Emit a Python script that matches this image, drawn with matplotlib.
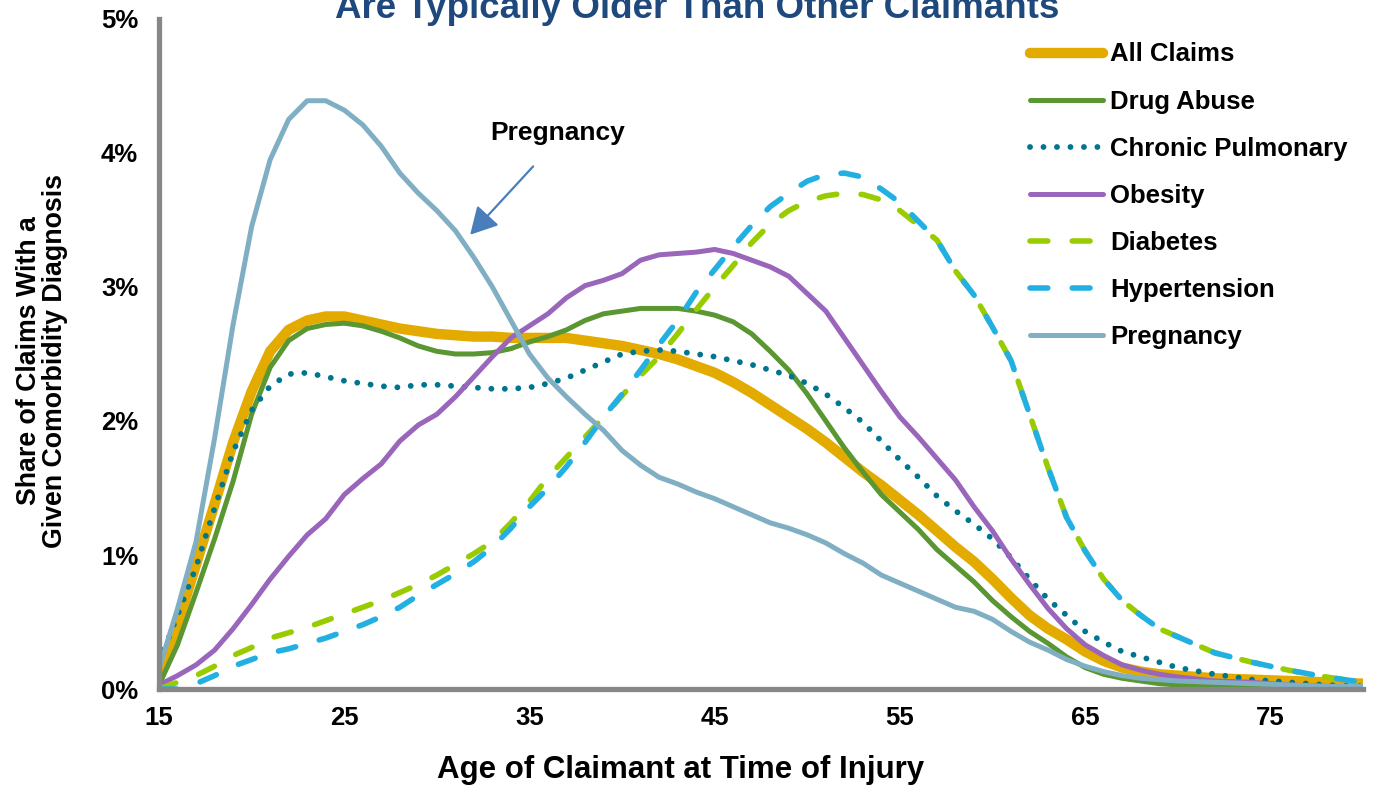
import matplotlib
matplotlib.use("Agg")
import matplotlib.pyplot as plt
from matplotlib.ticker import FuncFormatter

plt.rcParams['font.family'] = ['Liberation Sans', 'DejaVu Sans']
plt.rcParams['font.weight'] = 'bold'

# ages (x axis)
ages = list(range(15, 71)) + [72, 74, 76, 78, 80]

# share of claims (%) at each age
all_claims = [0.08, 0.48, 0.93, 1.38, 1.84, 2.22, 2.52, 2.68, 2.75, 2.78,
              2.78, 2.75, 2.72, 2.69, 2.67, 2.65, 2.64, 2.63, 2.63, 2.62,
              2.62, 2.62, 2.62, 2.60, 2.58, 2.56, 2.53, 2.50, 2.46, 2.41,
              2.36, 2.29, 2.21, 2.12, 2.03, 1.94, 1.84, 1.73, 1.62, 1.52,
              1.41, 1.30, 1.18, 1.06, 0.95, 0.82, 0.68, 0.55, 0.45, 0.37,
              0.28, 0.21, 0.16, 0.13, 0.11, 0.10,
              0.08, 0.07, 0.06, 0.05, 0.04]
drug_abuse = [0.03, 0.33, 0.72, 1.12, 1.55, 2.05, 2.40, 2.60, 2.69, 2.72,
              2.73, 2.71, 2.67, 2.62, 2.56, 2.52, 2.50, 2.50, 2.51, 2.54,
              2.59, 2.63, 2.68, 2.75, 2.80, 2.82, 2.84, 2.84, 2.84, 2.82,
              2.79, 2.74, 2.65, 2.52, 2.38, 2.20, 2.00, 1.80, 1.62, 1.45,
              1.32, 1.19, 1.04, 0.92, 0.80, 0.66, 0.54, 0.43, 0.34, 0.24,
              0.16, 0.11, 0.08, 0.06, 0.04, 0.03,
              0.02, 0.02, 0.01, 0.01, 0.01]
chronic_pulmonary = [0.20, 0.55, 0.91, 1.35, 1.77, 2.08, 2.26, 2.35, 2.36, 2.33,
                     2.30, 2.28, 2.26, 2.25, 2.27, 2.27, 2.26, 2.25, 2.24, 2.24,
                     2.25, 2.28, 2.32, 2.38, 2.44, 2.50, 2.52, 2.53, 2.52, 2.50,
                     2.48, 2.45, 2.42, 2.38, 2.34, 2.28, 2.20, 2.10, 1.99, 1.85,
                     1.71, 1.58, 1.44, 1.33, 1.23, 1.12, 0.98, 0.82, 0.67, 0.55,
                     0.43, 0.35, 0.28, 0.24, 0.20, 0.16,
                     0.11, 0.07, 0.05, 0.03, 0.02]
obesity = [0.03, 0.10, 0.18, 0.29, 0.45, 0.63, 0.82, 0.99, 1.15, 1.27,
           1.45, 1.57, 1.68, 1.85, 1.97, 2.05, 2.18, 2.33, 2.48, 2.62,
           2.71, 2.80, 2.92, 3.01, 3.05, 3.10, 3.20, 3.24, 3.25, 3.26,
           3.28, 3.25, 3.20, 3.15, 3.08, 2.95, 2.82, 2.62, 2.42, 2.22,
           2.03, 1.88, 1.72, 1.56, 1.36, 1.18, 0.97, 0.78, 0.60, 0.45,
           0.33, 0.25, 0.18, 0.14, 0.11, 0.09,
           0.06, 0.05, 0.03, 0.02, 0.01]
diabetes = [0.00, 0.05, 0.10, 0.17, 0.25, 0.31, 0.38, 0.42, 0.46, 0.51,
            0.56, 0.61, 0.66, 0.72, 0.78, 0.85, 0.93, 1.01, 1.10, 1.24,
            1.40, 1.58, 1.73, 1.88, 2.03, 2.19, 2.34, 2.48, 2.65, 2.83,
            3.00, 3.16, 3.33, 3.47, 3.57, 3.64, 3.68, 3.70, 3.69, 3.65,
            3.57, 3.46, 3.35, 3.12, 2.94, 2.70, 2.45, 2.05, 1.65, 1.28,
            1.03, 0.82, 0.66, 0.55, 0.45, 0.39,
            0.27, 0.20, 0.14, 0.09, 0.05]
hypertension = [0.00, 0.00, 0.04, 0.10, 0.17, 0.22, 0.27, 0.30, 0.34, 0.38,
                0.43, 0.48, 0.54, 0.61, 0.70, 0.78, 0.86, 0.95, 1.06, 1.20,
                1.36, 1.50, 1.66, 1.84, 2.03, 2.20, 2.38, 2.57, 2.75, 2.96,
                3.13, 3.30, 3.46, 3.60, 3.70, 3.79, 3.84, 3.85, 3.82, 3.73,
                3.63, 3.49, 3.35, 3.12, 2.94, 2.70, 2.45, 2.05, 1.65, 1.28,
                1.03, 0.82, 0.66, 0.55, 0.45, 0.39,
                0.27, 0.20, 0.14, 0.09, 0.05]
pregnancy = [0.15, 0.60, 1.10, 1.87, 2.72, 3.45, 3.95, 4.25, 4.39, 4.39,
             4.32, 4.21, 4.05, 3.85, 3.70, 3.57, 3.42, 3.22, 3.00, 2.75,
             2.50, 2.32, 2.18, 2.05, 1.93, 1.78, 1.67, 1.58, 1.53, 1.47,
             1.42, 1.36, 1.30, 1.24, 1.20, 1.15, 1.09, 1.01, 0.94, 0.85,
             0.79, 0.73, 0.67, 0.61, 0.58, 0.52, 0.43, 0.35, 0.29, 0.22,
             0.17, 0.13, 0.10, 0.08, 0.07, 0.06,
             0.05, 0.04, 0.03, 0.02, 0.02]

x_ticks = [15, 25, 35, 45, 55, 65, 75]
y_ticks = [0, 1, 2, 3, 4, 5]

fig = plt.figure(figsize=(13.73, 7.87), dpi=100)
ax = fig.add_axes([0.1158, 0.1245, 0.8769, 0.8514])

dash = (0, (3.2, 4.4))
dot = (0, (0.01, 2.3))
ax.plot(ages, all_claims, color="#E3AA00", lw=7.5, solid_capstyle="round",
        solid_joinstyle="round", label="All Claims")
ax.plot(ages, drug_abuse, color="#5A9632", lw=3.6, solid_capstyle="round",
        solid_joinstyle="round", label="Drug Abuse")
ax.plot(ages, chronic_pulmonary, color="#00758F", lw=4.2, linestyle=dot,
        dash_capstyle="round", label="Chronic Pulmonary")
ax.plot(ages, obesity, color="#9966BB", lw=3.6, solid_capstyle="round",
        solid_joinstyle="round", label="Obesity")
ax.plot(ages, diabetes, color="#99CC00", lw=4.0, linestyle=dash,
        dash_capstyle="round", label="Diabetes")
ax.plot(ages, hypertension, color="#22B0E2", lw=4.0, linestyle=dash,
        dash_capstyle="round", label="Hypertension")
ax.plot(ages, pregnancy, color="#80AFC3", lw=3.6, solid_capstyle="round",
        solid_joinstyle="round", label="Pregnancy")

# arrow pointing at the pregnancy curve
ax.annotate("", xy=(31.8, 3.39), xytext=(35.2, 3.9),
            arrowprops=dict(arrowstyle="-|>,head_length=1.0,head_width=0.55",
                            color="#4A7EBB", lw=1.6, mutation_scale=16.5,
                            shrinkA=0, shrinkB=0))
ax.text(36.5, 4.15, "Pregnancy", fontsize=19, fontweight="bold",
        ha="center", va="center")

ax.set_xlim(15, 80)
ax.set_ylim(0, 5)
ax.set_xticks(x_ticks)
ax.set_yticks(y_ticks)
ax.yaxis.set_major_formatter(FuncFormatter(lambda v, p: f"{v:.0f}%"))
ax.tick_params(length=0, labelsize=18.5)
ax.tick_params(axis="x", pad=12)
ax.tick_params(axis="y", pad=15)
for lab in ax.get_xticklabels() + ax.get_yticklabels():
    lab.set_fontweight("bold")

for s in ["top", "right"]:
    ax.spines[s].set_visible(False)
for s in ["left", "bottom"]:
    ax.spines[s].set_color("#878787")
    ax.spines[s].set_linewidth(3.8)

leg = ax.legend(loc="upper left", bbox_to_anchor=(0.7502, 0.946),
                bbox_transform=fig.transFigure, frameon=False,
                fontsize=18.5, handlelength=2.85, handletextpad=0.28,
                labelspacing=0.9, borderpad=0, borderaxespad=0)
for t in leg.get_texts():
    t.set_fontweight("bold")

fig.text(681 / 1373, 9 / 787, "Age of Claimant at Time of Injury",
         fontsize=22.5, fontweight="bold", ha="center", va="baseline")
fig.text(42 / 1373, 1 - 361 / 787,
         "Share of Claims With a\nGiven Comorbidity Diagnosis",
         fontsize=19.3, fontweight="bold", rotation=90, ha="center",
         va="center", multialignment="center", linespacing=1.0)
fig.text(697 / 1373, 1 - 18 / 787, "Are Typically Older Than Other Claimants",
         fontsize=26.5, fontweight="bold", color="#1F497D",
         ha="center", va="baseline")

fig.savefig("out.png", dpi=100)
